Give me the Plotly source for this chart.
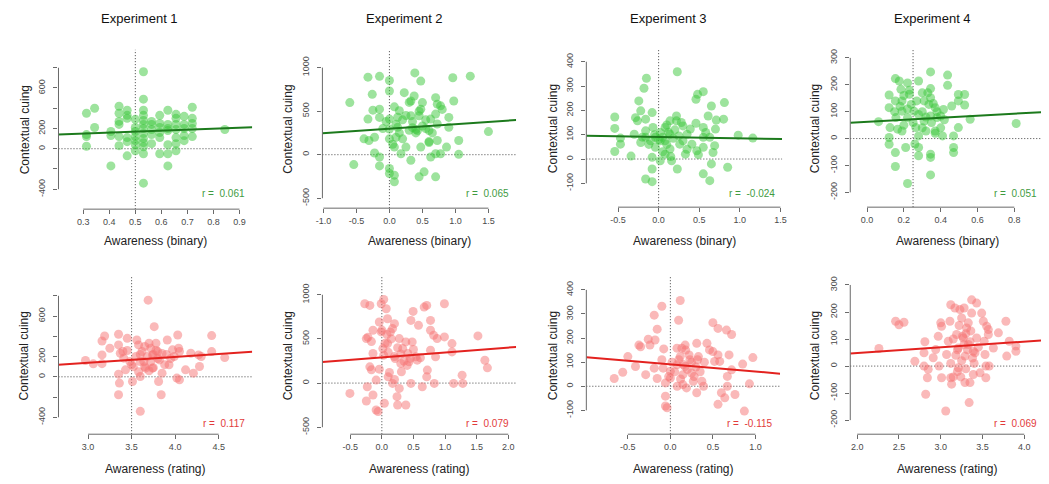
import plotly.graph_objects as go

# ---------------- data ----------------
experiments = ["Experiment 1", "Experiment 2", "Experiment 3", "Experiment 4"]
x_titles = ["Awareness (binary)", "Awareness (rating)"]
y_title = "Contextual cuing"
r_values = ["0.061", "0.065", "-0.024", "0.051", "0.117", "0.079", "-0.115", "0.069"]
fit_intercept = [121.2, 299.0, 90.5, 62.4, -36.2, 292.0, 91.1, 5.9]
fit_slope = [96.6, 51.5, -5.7, 37.9, 58.2, 55.3, -30.0, 21.2]
chance_x = [0.5, 0.0, 0.0, 0.25, 3.5, 0.0, 0.0, None]

exp1_bin_x = [0.3125, 0.3125, 0.3125, 0.3125, 0.34375, 0.34375, 0.40625, 0.40625, 0.40625,
              0.4375, 0.4375, 0.4375, 0.4375, 0.4375, 0.4375,
              0.46875, 0.46875, 0.46875, 0.46875, 0.46875, 0.46875,
              0.5, 0.5, 0.5, 0.5, 0.5, 0.5, 0.5,
              0.53125, 0.53125, 0.53125, 0.53125, 0.53125, 0.53125, 0.53125, 0.53125, 0.53125,
              0.53125, 0.53125, 0.53125, 0.53125,
              0.5625, 0.5625, 0.5625, 0.5625, 0.5625,
              0.59375, 0.59375, 0.59375, 0.59375, 0.59375, 0.59375,
              0.625, 0.625, 0.625, 0.625, 0.625, 0.625, 0.625,
              0.65625, 0.65625, 0.65625, 0.65625, 0.65625, 0.65625, 0.65625,
              0.6875, 0.6875, 0.6875, 0.6875, 0.6875,
              0.71875, 0.71875, 0.71875, 0.71875, 0.71875, 0.84375]
exp1_bin_y = [350, 140, 120, 25, 400, 210, 170, 130, -170,
              420, 350, 270, 240, 120, 30,
              380, 330, 300, 110, 70, -70,
              290, 210, 170, 120, 80, 40, -20,
              760, 490, 380, 330, 280, 240, 200, 150, 100, 60, 20, -50, -340,
              270, 240, 190, 140, 50,
              330, 250, 210, 160, 110, -50,
              380, 240, 200, 180, 40, -50, -170,
              340, 300, 240, 190, 110, 50, -20,
              320, 240, 200, 130, 80,
              410, 300, 250, 200, 120, 190]

exp2_bin_x = [-0.6, -0.54, -0.325, -0.15, -0.26, -0.25, -0.15, -0.15, -0.325, -0.385, -0.31, -0.225,
              -0.225, -0.15, -0.15, 0.0, 0.0, 0.0, 0.0, 0.0, 0.0, 0.0, 0.075, 0.075, 0.075, 0.075,
              0.15, 0.125, 0.125, 0.175, 0.2, 0.225, 0.325, 0.325, 0.25, 0.375, 0.385, 0.45, 0.475,
              0.475, 0.5, 0.425, 0.4, 0.325, 0.45, 0.525, 0.475, 0.6, 0.625, 0.625, 0.6, 0.7, 0.7,
              0.725, 0.725, 0.725, 0.7, 0.7, 0.775, 0.775, 0.865, 0.9, 0.9, 0.96, 0.975, 1.05, 1.05,
              1.225, 1.5,
              0.1, 0.15, 0.2, 0.3, 0.35, 0.4, 0.5, 0.55, 0.25, 0.05, 0.1, 0.3, 0.6, 0.65, 0.8, -0.1,
              -0.05, 0.45, 0.55, 0.35]
exp2_bin_y = [598, -114, 890, 900, 693, 511, 523, 428, 409, 182, 163, 200,
              19, -26, -129, 852, 731, 409, 295, 182, -159, -216, 549, 87, -311, -235,
              504, 430, 314, 11, 182, 712, 617, 447, 87, 674, 939, 447, 845,
              523, 598, 277, 290, -64, -254, -197, 87, 277, 409, -26, 140, 466, 655,
              580, 352, 163, 11, -254, 561, 11, 87, 314, 428, 883, 617, 163, 4,
              902, 265,
              350, 250, 400, 280, 380, 250, 330, 400, 450, 120, 200, 600, 150, 250, 520, 300,
              380, 500, 300, 310]

exp3_bin_x = [-0.54, -0.54, -0.54, -0.47, -0.47, -0.34, -0.30, -0.285, -0.26, -0.244, -0.22, -0.22,
              -0.18, -0.15, -0.16, -0.16, -0.16, -0.16, -0.1, -0.08, -0.08, -0.07, -0.08, -0.08,
              -0.04, -0.04, 0.02, 0.02, 0.02, 0.08, 0.08, 0.08, 0.14, 0.14, 0.14, 0.16, 0.23, 0.22,
              0.22, 0.23, 0.26, 0.3, 0.33, 0.35, 0.39, 0.41, 0.46, 0.46, 0.48, 0.47, 0.49, 0.55,
              0.55, 0.55, 0.55, 0.55, 0.58, 0.61, 0.63, 0.63, 0.65, 0.65, 0.67, 0.69, 0.70, 0.71,
              0.80, 0.81, 0.85, 0.98, 1.16,
              0.0, 0.05, 0.1, 0.12, 0.18, 0.2, 0.25, 0.3, 0.05, 0.15, -0.05, -0.12, 0.35, -0.2,
              0.28, 0.1]
exp3_bin_y = [173, 126, 31, 86, 61, 12, 102, 170, 157, 239, 198, 68,
              291, 332, 164, 116, 89, -82, 75, -93, 191, 130, 7, -41,
              48, 89, 75, 109, -7, 130, 75, 20, 157, 102, 41, -7, 359, 177,
              157, -41, 61, 136, 20, 102, 123, 61, 147, 246, 266, 34, 18, 277,
              130, 89, 48, -61, 109, 177, 89, -89, 218, -20, 27, 55, 123, 160,
              164, 232, -34, 98, 86,
              80, 90, 60, 110, 85, 120, 95, 75, 30, 10, 100, 60, 40, 90,
              150, 140]

exp4_bin_x = [0.0625, 0.12, 0.12, 0.12, 0.12, 0.125, 0.154, 0.154, 0.154, 0.154, 0.157, 0.166,
              0.175, 0.184, 0.19, 0.19, 0.19, 0.21, 0.22, 0.22, 0.22, 0.23, 0.24, 0.255, 0.265,
              0.28, 0.28, 0.28, 0.28, 0.3, 0.31, 0.31, 0.32, 0.336, 0.345, 0.345, 0.345, 0.345,
              0.345, 0.345, 0.345, 0.37, 0.37, 0.38, 0.40, 0.41, 0.415, 0.4375, 0.4375, 0.46,
              0.47, 0.47, 0.47, 0.496, 0.496, 0.496, 0.53, 0.53, 0.56, 0.81,
              0.18, 0.2, 0.22, 0.25, 0.27, 0.3, 0.32, 0.35, 0.38, 0.4, 0.28, 0.33, 0.23, 0.15,
              0.26, 0.37, 0.3, 0.42, 0.2, 0.36]
exp4_bin_y = [63, 162, 115, 4, -21, 41, 223, 140, -52, -104, 78, 35,
              214, 183, 140, 102, 28, -33, 207, 78, -167, 165, 127, 102, 41,
              214, -33, -64, 90, 170, 140, 65, 28, 127, 248, 186, 152, 84,
              -58, -70, -135, 115, 28, 78, 84, 10, 108, 236, 198, 121,
              -33, -52, 10, 164, 140, 41, 164, 125, 72, 56,
              120, 160, 110, 60, 140, 100, 80, 60, 100, 40, 10, 170, 180, 100,
              -20, 20, 40, 70, 50, 130]

exp1_rat_x = [2.97, 3.06, 3.16, 3.19, 3.16, 3.16, 3.25, 3.35, 3.35, 3.35, 3.36, 3.35, 3.37, 3.40,
              3.41, 3.43, 3.45, 3.48, 3.52, 3.51, 3.56, 3.58, 3.60, 3.60, 3.60, 3.64, 3.66, 3.69,
              3.70, 3.72, 3.74, 3.74, 3.76, 3.78, 3.80, 3.82, 3.81, 3.84, 3.85, 3.91, 3.93, 3.97,
              3.99, 4.02, 4.03, 4.04, 4.05, 4.12, 4.18, 4.21, 4.27, 4.28, 4.30, 4.42, 4.42, 4.57,
              3.55, 3.6, 3.62, 3.65, 3.68, 3.72, 3.75, 3.78, 3.8, 3.85, 3.88, 3.5, 3.45, 3.7,
              3.95, 3.9, 4.05, 3.65, 3.58, 3.75]
exp1_rat_y = [161, 128, 354, 403, 216, 130, 282, 420, 315, 26, -62, -177, 233, 250,
              184, 69, 380, 150, 100, -46, 364, 315, 220, 3, -341, 150, 85, 757,
              331, 282, 216, 85, 495, 331, 249, 167, -46, -177, 36, 364, 118, 266,
              200, -13, 413, 282, -30, 69, 233, 36, 216, 102, 200, 407, 249, 190,
              200, 150, 250, 100, 200, 150, 220, 260, 180, 230, 120, 120, 260, 60,
              180, 220, 250, 300, 50, 90]

exp2_rat_x = [-0.505, -0.27, -0.19, -0.245, -0.22, -0.14, -0.165, -0.14, -0.19, -0.165, -0.23,
              -0.245, -0.14, -0.09, -0.06, -0.09, -0.04, -0.04, -0.01, 0.03, 0.07, -0.01, 0.016,
              0.03, 0.04, 0.09, 0.09, 0.10, 0.135, 0.17, 0.17, 0.2, 0.21, 0.24, 0.25, 0.276, 0.276,
              0.30, 0.31, 0.33, 0.38, 0.38, 0.41, 0.43, 0.46, 0.495, 0.48, 0.46, 0.54, 0.56, 0.58,
              0.61, 0.64, 0.67, 0.71, 0.72, 0.71, 0.77, 0.77, 0.77, 0.82, 0.83, 0.85, 0.875, 0.99,
              0.99, 1.11, 1.11, 1.135, 1.27, 1.28, 1.52, 1.63, 1.67,
              0.05, 0.1, 0.15, 0.2, 0.25, 0.3, 0.35, 0.4, 0.45, 0.5, 0.12, 0.2, 0.0, 0.08]
exp2_rat_y = [-117, 898, 880, 504, 520, 598, 470, 335, 184, 150, -41,
              -203, -135, -305, -323, 34, 158, 692, 898, 947, 842, 580, 391,
              316, -229, 729, 447, 71, 579, 617, -4, 673, 278, -154, -248, -60, 504,
              222, 128, 391, 466, -248, 335, 241, 710, 812, 466, -4, 297, 260, 654,
              286, -41, 861, 880, 147, 71, 710, 598, 372, 541, -4, 297, 504, 898,
              523, 447, 353, -4, 90, -4, 534, 259, 173,
              450, 350, 500, 300, 400, 330, 250, 200, 280, 380, 120, 40, 600, 550]

exp3_rat_x = [-0.66, -0.56, -0.50, -0.41, -0.37, -0.35, -0.29, -0.26, -0.24, -0.19, -0.18, -0.19,
              -0.155, -0.155, -0.10, -0.10, -0.085, -0.078, -0.058, -0.058, -0.039, -0.058, 0.0,
              0.0, 0.078, 0.097, 0.116, 0.078, 0.116, 0.135, 0.147, 0.147, 0.174, 0.174, 0.19,
              0.23, 0.25, 0.27, 0.31, 0.31, 0.33, 0.37, 0.39, 0.43, 0.46, 0.50, 0.50, 0.52, 0.56,
              0.56, 0.56, 0.58, 0.60, 0.64, 0.66, 0.67, 0.67, 0.69, 0.72, 0.72, 0.76, 0.85, 0.87,
              0.93, 0.97,
              0.02, 0.05, 0.1, 0.15, 0.2, 0.25, 0.3, 0.35, 0.22, 0.12, 0.28, 0.4, 0.18, 0.08,
              0.32, -0.02]
exp3_rat_y = [32, 58, 123, 82, 171, 164, 48, 195, 171, 295, 192, 75,
              237, 32, 332, 110, 75, 155, -41, -82, -89, 14, 62,
              34, 89, 274, 356, 158, 123, 158, 48, 7, 171, 82, -7,
              110, 55, 21, -27, 178, 123, 21, 0, 178, 151, 264, 144, 103, 240,
              130, -75, 103, -27, -48, 233, 41, 0, 130, 215, 68, -34, 92, -103,
              10, 119,
              100, 60, 110, 90, 70, 100, 80, 60, 130, 30, 40, 100, 150, 0,
              110, 40]

exp4_rat_x = [2.26, 2.46, 2.50, 2.56, 2.69, 2.81, 2.80, 2.80, 2.84, 2.85, 2.82, 2.91, 2.94, 2.97,
              2.98, 3.00, 3.01, 3.01, 3.06, 3.07, 3.09, 3.11, 3.12, 3.12, 3.13, 3.17, 3.19, 3.21,
              3.21, 3.23, 3.25, 3.27, 3.28, 3.29, 3.29, 3.31, 3.33, 3.34, 3.35, 3.37, 3.37, 3.39,
              3.39, 3.43, 3.43, 3.41, 3.47, 3.49, 3.51, 3.52, 3.53, 3.54, 3.54, 3.55, 3.57, 3.57,
              3.58, 3.63, 3.69, 3.78, 3.79, 3.82, 3.90, 3.90,
              3.15, 3.2, 3.22, 3.25, 3.28, 3.3, 3.32, 3.35, 3.38, 3.2, 3.3, 3.18, 3.26, 3.4,
              3.33, 3.15, 3.45, 3.24, 3.36, 3.12]
exp4_rat_y = [65, 166, 153, 162, 18, 90, 49, 0, -43, -12, -104, 31, 61, 110,
              0, 160, 147, -43, -166, 43, 92, 166, 227, -43, -67, 215, 117, 67,
              -6, 209, 178, 104, 215, 37, -61, 141, 80, -135, -61, 245, 196, 55,
              -31, 233, 104, 49, -25, 196, 166, 92, 43, -43, 0, 147, 135, 117,
              0, 67, 123, 166, 37, 92, 74, 55,
              100, 60, 150, 20, 80, 120, 60, 90, 30, -20, -10, 40, 110, 10,
              160, -40, 70, -40, 130, 10]

panel_x = [exp1_bin_x, exp2_bin_x, exp3_bin_x, exp4_bin_x, exp1_rat_x, exp2_rat_x, exp3_rat_x, exp4_rat_x]
panel_y = [exp1_bin_y, exp2_bin_y, exp3_bin_y, exp4_bin_y, exp1_rat_y, exp2_rat_y, exp3_rat_y, exp4_rat_y]

x_ticks = [[0.3, 0.4, 0.5, 0.6, 0.7, 0.8, 0.9],
           [-1.0, -0.5, 0.0, 0.5, 1.0, 1.5],
           [-0.5, 0.0, 0.5, 1.0, 1.5],
           [0.0, 0.2, 0.4, 0.6, 0.8],
           [3.0, 3.5, 4.0, 4.5],
           [-0.5, 0.0, 0.5, 1.0, 1.5, 2.0],
           [-0.5, 0.0, 0.5, 1.0],
           [2.0, 2.5, 3.0, 3.5, 4.0]]
y_ticks = [[-400, -200, 0, 200, 400, 600, 800],
           [-500, 0, 500, 1000],
           [-100, 0, 100, 200, 300, 400],
           [-200, -100, 0, 100, 200, 300],
           [-400, -200, 0, 200, 400, 600, 800],
           [-500, 0, 500, 1000],
           [-100, 0, 100, 200, 300, 400],
           [-200, -100, 0, 100, 200, 300]]
y_ticks_labelled = [[-400, 0, 200, 600], None, None, None, [-400, 0, 200, 600], None, None, None]

# ---------------- layout geometry (page pixels) ----------------
PAGE_OFF = 8            # default body margin of the html page
W, H = 1049 - PAGE_OFF, 484 - PAGE_OFF
dom_px = [(52, 248, 49, 209), (319, 515, 49, 208), (586, 784, 49, 207), (853, 1049, 49, 207),
          (52, 248, 277, 435), (319, 515, 277, 435), (586, 782, 277, 435), (853, 1049, 277, 435)]
x_rng = [(0.205, 0.949), (-1.015, 1.92), (-0.89, 1.52), (-0.091, 0.961),
         (2.66, 4.886), (-0.94, 2.125), (-0.988, 1.29), (1.917, 4.236)]
y_rng = [(-597, 977), (-614, 1204), (-198, 449), (-255, 330),
         (-567, 987), (-579, 1203), (-199, 454), (-252, 330)]
title_px = [134, 402, 669, 936]
ytitle_px = [19, 284, 553, 818, 17, 284, 552, 817]

FONT = "Liberation Sans, Arial, sans-serif"
AX = "#6a6a6a"

def px(x):
    return (x - PAGE_OFF) / W

def py(y):
    return 1 - (y - PAGE_OFF) / H

def fmt(v):
    return f"{v:.1f}"

fig = go.Figure()
layout = dict(width=W, height=H, margin=dict(l=0, r=0, t=0, b=0),
              paper_bgcolor="white", plot_bgcolor="white", showlegend=False,
              font=dict(family=FONT))
shapes = []
annotations = []

for i in range(8):
    n = "" if i == 0 else str(i + 1)
    xa, ya = "x" + n, "y" + n
    green = i < 4
    pt_col = "rgba(60,200,60,0.5)" if green else "rgba(245,115,115,0.5)"
    ln_col = "#1c7a1c" if green else "#e3221f"
    txt_col = "#3f9b3f" if green else "#e23b3b"
    l, r, t, b = dom_px[i]

    fig.add_trace(go.Scatter(x=panel_x[i], y=panel_y[i], mode="markers", xaxis=xa, yaxis=ya,
                             marker=dict(size=9, color=pt_col, line=dict(width=0)),
                             hoverinfo="skip"))
    x0, x1 = x_rng[i]
    fig.add_trace(go.Scatter(x=[x0, x1],
                             y=[fit_intercept[i] + fit_slope[i] * x0, fit_intercept[i] + fit_slope[i] * x1],
                             mode="lines", xaxis=xa, yaxis=ya,
                             line=dict(color=ln_col, width=2), hoverinfo="skip"))

    labelled = y_ticks_labelled[i] if y_ticks_labelled[i] is not None else y_ticks[i]
    ytext = [str(v) if v in labelled else "" for v in y_ticks[i]]

    layout["xaxis" + n] = dict(domain=[px(l), min(px(r), 1.0)], range=list(x_rng[i]), anchor=ya,
                               tickvals=x_ticks[i], ticktext=[fmt(v) for v in x_ticks[i]],
                               ticks="outside", ticklen=4, tickcolor=AX, tickwidth=1,
                               showgrid=False, zeroline=False, showline=False,
                               tickfont=dict(size=9, color="#4a4a4a", family=FONT))
    layout["yaxis" + n] = dict(domain=[py(b), py(t)], range=list(y_rng[i]), anchor=xa,
                               tickvals=y_ticks[i], ticktext=ytext, tickangle=-90,
                               ticks="outside", ticklen=4, tickcolor=AX, tickwidth=1,
                               ticklabelstandoff=5,
                               showgrid=False, zeroline=False, showline=False,
                               tickfont=dict(size=9, color="#4a4a4a", family=FONT))

    # detached axis lines spanning first to last tick
    shapes.append(dict(type="line", xref=xa, yref=ya + " domain", x0=x_ticks[i][0], x1=x_ticks[i][-1],
                       y0=0, y1=0, line=dict(color=AX, width=1)))
    shapes.append(dict(type="line", xref=xa + " domain", yref=ya, x0=0, x1=0,
                       y0=y_ticks[i][0], y1=y_ticks[i][-1], line=dict(color=AX, width=1)))
    # zero reference line
    shapes.append(dict(type="line", xref=xa + " domain", yref=ya, x0=0, x1=1, y0=0, y1=0,
                       line=dict(color="#444444", width=1, dash="1px,2px"), layer="below"))
    if chance_x[i] is not None:
        shapes.append(dict(type="line", xref=xa, yref=ya + " domain", x0=chance_x[i], x1=chance_x[i],
                           y0=0, y1=1, line=dict(color="#444444", width=1, dash="1px,2px"), layer="below"))

    # axis titles
    row_top = i < 4
    annotations.append(dict(text=x_titles[0] if row_top else x_titles[1], xref="paper", yref="paper",
                            x=px((l + r) / 2), y=py(241 if row_top else 470), showarrow=False,
                            xanchor="center", yanchor="middle",
                            font=dict(size=12, color="#222222", family=FONT)))
    annotations.append(dict(text=y_title, xref="paper", yref="paper", textangle=-90,
                            x=px(ytitle_px[i]), y=py((t + b) / 2), showarrow=False,
                            xanchor="center", yanchor="middle",
                            font=dict(size=12, color="#222222", family=FONT)))
    annotations.append(dict(text="r =  " + r_values[i], xref="paper", yref="paper",
                            x=px(r - 5), y=py(193 if row_top else 424), showarrow=False,
                            xanchor="right", yanchor="middle",
                            font=dict(size=10, color=txt_col, family=FONT)))

for j, name in enumerate(experiments):
    annotations.append(dict(text=name, xref="paper", yref="paper", x=px(title_px[j]), y=py(18),
                            showarrow=False, xanchor="center", yanchor="middle",
                            font=dict(size=13, color="#111111", family=FONT)))

layout["shapes"] = shapes
layout["annotations"] = annotations
fig.update_layout(**layout)
fig.write_html("out.html")
